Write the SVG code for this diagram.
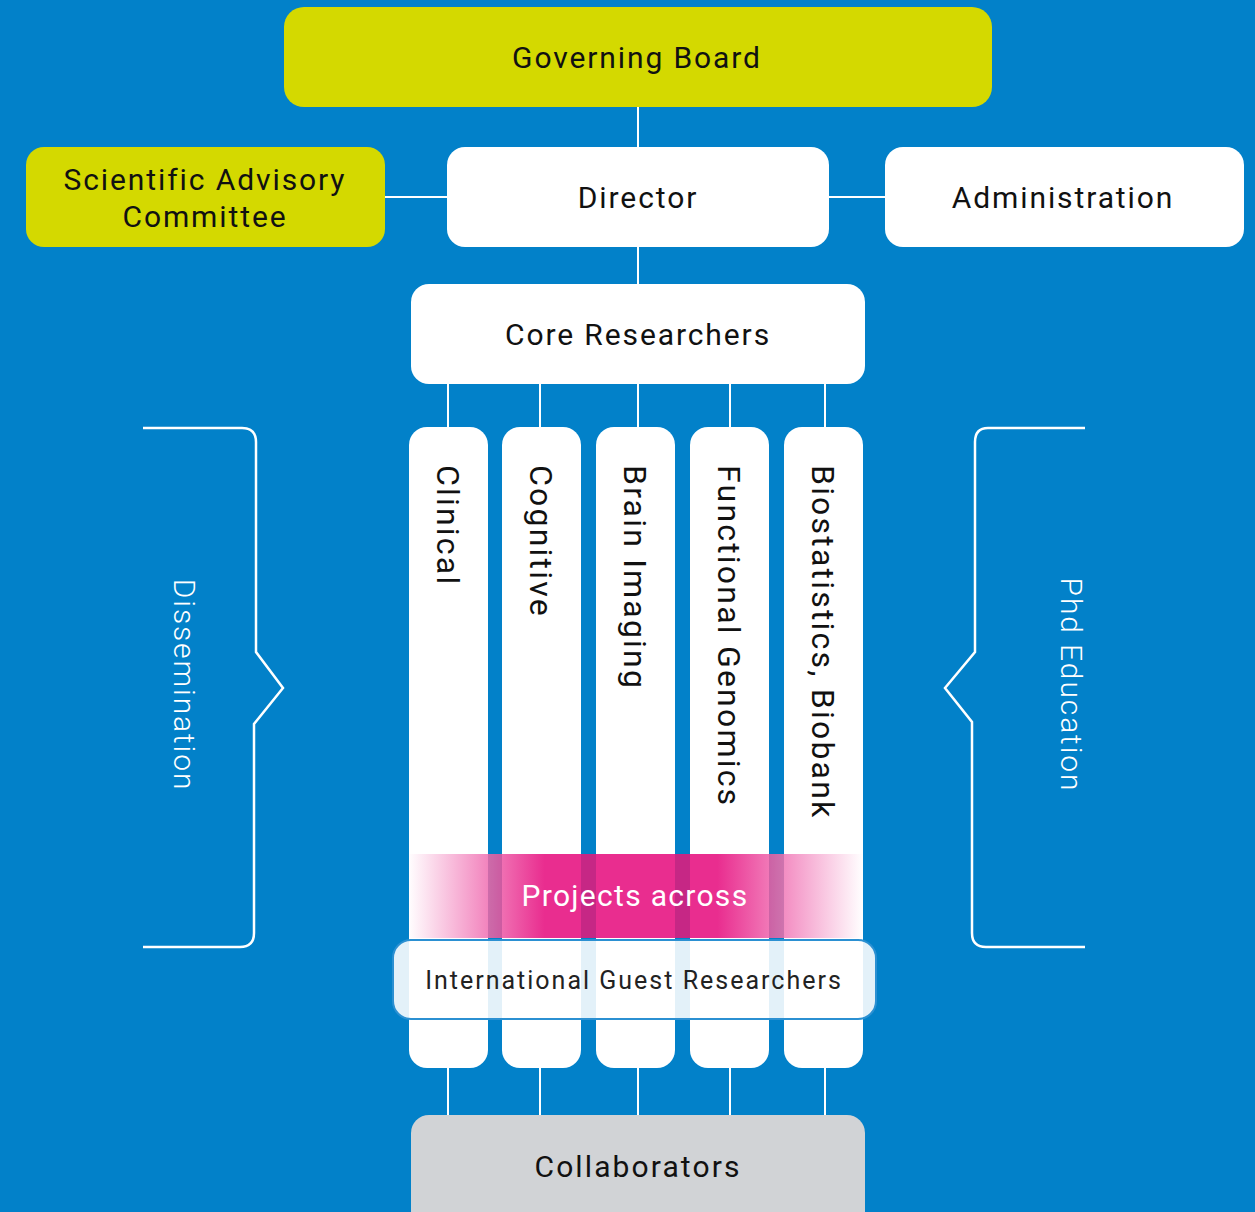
<svg xmlns="http://www.w3.org/2000/svg" width="1255" height="1212" viewBox="0 0 1255 1212">
  <defs>
    <linearGradient id="bandPink" gradientUnits="userSpaceOnUse" x1="408" y1="0" x2="863" y2="0">
      <stop offset="0" stop-color="#E92D8F" stop-opacity="0"/>
      <stop offset="0.3" stop-color="#E92D8F" stop-opacity="1"/>
      <stop offset="0.68" stop-color="#E92D8F" stop-opacity="1"/>
      <stop offset="1" stop-color="#E92D8F" stop-opacity="0"/>
    </linearGradient>
    <style>
      .lbl { font-family: Roboto, "Liberation Sans", sans-serif; fill: #111; text-anchor: middle; }
      .big { font-size: 30px; letter-spacing: 1.9px; }
      .col { font-size: 32px; letter-spacing: 2.2px; text-anchor: start; }
      .side { font-family: Roboto, "Liberation Sans", sans-serif; font-size: 30px; fill: #fff; text-anchor: middle; font-weight: 300; letter-spacing: 1.9px; }
      .wire { stroke: #fff; stroke-width: 2; fill: none; }
      .brace { stroke: #fff; stroke-width: 2.5; fill: none; stroke-linejoin: miter; }
      .yellow { fill: #D4D900; }
      .white { fill: #fff; }
      .gap-base { fill: #fff; }
      .gap-shade { fill: #3A1060; fill-opacity: 0.2; }
    </style>
  </defs>

  <rect width="1255" height="1212" fill="#0281C9"/>

  <!-- connectors -->
  <g id="connectors">
    <line class="wire" x1="638" y1="107" x2="638" y2="147"/>
    <line class="wire" x1="385" y1="197" x2="447" y2="197"/>
    <line class="wire" x1="829" y1="197" x2="885" y2="197"/>
    <line class="wire" x1="638" y1="247" x2="638" y2="284"/>
    <line class="wire" x1="448" y1="384" x2="448" y2="428"/>
    <line class="wire" x1="540" y1="384" x2="540" y2="428"/>
    <line class="wire" x1="638" y1="384" x2="638" y2="428"/>
    <line class="wire" x1="730" y1="384" x2="730" y2="428"/>
    <line class="wire" x1="825" y1="384" x2="825" y2="428"/>
    <line class="wire" x1="448" y1="1067" x2="448" y2="1116"/>
    <line class="wire" x1="540" y1="1067" x2="540" y2="1116"/>
    <line class="wire" x1="638" y1="1067" x2="638" y2="1116"/>
    <line class="wire" x1="730" y1="1067" x2="730" y2="1116"/>
    <line class="wire" x1="825" y1="1067" x2="825" y2="1116"/>
  </g>

  <g id="governing-board">
    <rect class="yellow" x="284" y="7" width="708" height="100" rx="20"/>
    <text class="lbl big" x="637" y="68">Governing Board</text>
  </g>

  <g id="scientific-advisory-committee">
    <rect class="yellow" x="26" y="147" width="359" height="100" rx="18"/>
    <text class="lbl big" x="205" y="190">Scientific Advisory</text>
    <text class="lbl big" x="205" y="227">Committee</text>
  </g>

  <g id="director">
    <rect class="white" x="447" y="147" width="382" height="100" rx="18"/>
    <text class="lbl big" x="638" y="208">Director</text>
  </g>

  <g id="administration">
    <rect class="white" x="885" y="147" width="359" height="100" rx="18"/>
    <text class="lbl big" x="1063" y="208">Administration</text>
  </g>

  <g id="core-researchers">
    <rect class="white" x="411" y="284" width="454" height="100" rx="18"/>
    <text class="lbl big" x="638" y="345">Core Researchers</text>
  </g>

  <!-- research columns -->
  <g id="clinical">
    <rect class="white" x="409" y="427" width="79" height="641" rx="18"/>
    <text class="lbl col" transform="translate(437 465) rotate(90)">Clinical</text>
  </g>
  <g id="cognitive">
    <rect class="white" x="502" y="427" width="79" height="641" rx="18"/>
    <text class="lbl col" transform="translate(530 465) rotate(90)">Cognitive</text>
  </g>
  <g id="brain-imaging">
    <rect class="white" x="596" y="427" width="79" height="641" rx="18"/>
    <text class="lbl col" transform="translate(624 465) rotate(90)">Brain Imaging</text>
  </g>
  <g id="functional-genomics">
    <rect class="white" x="690" y="427" width="79" height="641" rx="18"/>
    <text class="lbl col" transform="translate(718 465) rotate(90)">Functional Genomics</text>
  </g>
  <g id="biostatistics-biobank">
    <rect class="white" x="784" y="427" width="79" height="641" rx="18"/>
    <text class="lbl col" transform="translate(812 465) rotate(90)">Biostatistics, Biobank</text>
  </g>

  <g id="projects-across">
    <rect class="gap-base" x="488" y="854" width="14" height="84"/>
    <rect class="gap-base" x="581" y="854" width="15" height="84"/>
    <rect class="gap-base" x="675" y="854" width="15" height="84"/>
    <rect class="gap-base" x="769" y="854" width="15" height="84"/>
    <rect x="408" y="854" width="455" height="84" fill="url(#bandPink)"/>
    <rect class="gap-shade" x="488" y="854" width="14" height="84"/>
    <rect class="gap-shade" x="581" y="854" width="15" height="84"/>
    <rect class="gap-shade" x="675" y="854" width="15" height="84"/>
    <rect class="gap-shade" x="769" y="854" width="15" height="84"/>
    <text x="635" y="906" style="font-family: Roboto, 'Liberation Sans', sans-serif; font-size: 30px; fill: #fff; text-anchor: middle; letter-spacing: 1.3px;">Projects across</text>
  </g>

  <g id="international-guest-researchers">
    <rect x="393" y="940" width="483" height="79" rx="18" fill="#fff" fill-opacity="0.89" stroke="#2B90D2" stroke-width="2"/>
    <text class="lbl" x="634" y="989" style="font-size: 25px; letter-spacing: 2px; fill: #222;">International Guest Researchers</text>
  </g>

  <g id="collaborators">
    <rect x="411" y="1115" width="454" height="120" rx="18" fill="#D1D3D6"/>
    <text class="lbl big" x="638" y="1177" style="letter-spacing: 2.1px;">Collaborators</text>
  </g>

  <g id="dissemination">
    <path class="brace" d="M143 428 H242 Q256 428 256 442 V652 L283 688 L254 724 V933 Q254 947 240 947 H143"/>
    <text class="side" transform="translate(174 685) rotate(90)">Dissemination</text>
  </g>

  <g id="phd-education">
    <path class="brace" d="M1085 428 H988 Q975 428 975 442 V652 L945 688 L972 722 V933 Q972 947 986 947 H1085"/>
    <text class="side" transform="translate(1061 685) rotate(90)">Phd Education</text>
  </g>
</svg>
